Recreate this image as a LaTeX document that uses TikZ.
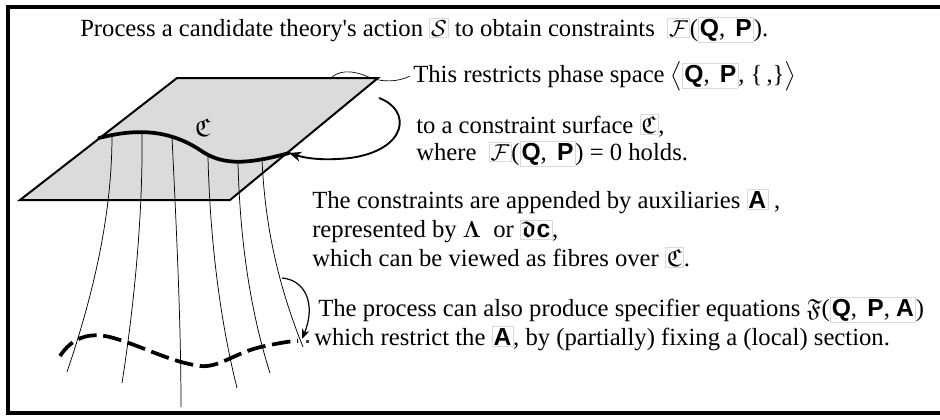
\documentclass[tikz,border=0pt]{standalone}
\usepackage{amsmath,amssymb,bm,textcomp}
\usepackage{fontspec}
\setmainfont{Liberation Serif}
\newfontfamily\bsans{Liberation Sans}
\usetikzlibrary{arrows.meta}
\newcommand{\symbox}[1]{{\color{black!15}\fboxsep=1pt\fboxrule=0.4pt\fbox{\color{black}#1}}}
\newcommand{\vQ}{{\bsans\bfseries Q}}
\newcommand{\vP}{{\bsans\bfseries P}}
\newcommand{\vA}{{\bsans\bfseries A}}
\newcommand{\vc}{{\bsans\bfseries c}}
\tikzset{
  txt/.style   ={anchor=base west, inner sep=0pt, font=\fontsize{18.5}{22}\selectfont},
  plane/.style ={draw=black, fill=black!14, line width=1.5pt, line join=miter},
  surf/.style  ={line width=2.8pt, line cap=round},
  fibre/.style ={line width=0.55pt},
  sect/.style  ={line width=2.8pt, dash pattern=on 14pt off 5pt},
  callout/.style={line width=0.5pt},
  maparr/.style={-{Stealth[length=3.2mm, width=2.6mm, inset=1mm]}, line width=1.4pt},
  secarr/.style={-{Stealth[length=2.6mm, width=2mm, inset=0.8mm]}, line width=0.9pt},
}
\begin{document}
\begin{tikzpicture}[x=0.75pt, y=-0.75pt]
  \useasboundingbox (0,0) rectangle (940,419);
  \draw[line width=2.3pt] (8,7) rectangle (960,413);
  % phase space
  \coordinate (pTL) at (177,78);
  \coordinate (pTR) at (378,78);
  \coordinate (pBR) at (230,200);
  \coordinate (pBL) at (20,200);
  \draw[plane] (pTL) -- (pTR) -- (pBR) -- (pBL) -- cycle;
  \coordinate (cL) at (99,138);
  \coordinate (cR) at (289,153);
  % fibres
  \draw[fibre] (112,135) .. controls (112,200) and (100,275) .. (67,372);
  \draw[fibre] (142,132) .. controls (143,210) and (135,300) .. (122,383);
  \draw[fibre] (172,137) .. controls (176,220) and (181,320) .. (181,407);
  \draw[fibre] (208,157) .. controls (210,240) and (220,320) .. (237,388);
  \draw[fibre] (238,163) .. controls (240,240) and (250,310) .. (270,373);
  \draw[fibre] (262,159) .. controls (265,230) and (280,290) .. (303,347);
  \draw[surf] (cL) .. controls (130,130) and (165,127) .. (200,150)
    .. controls (220,164) and (242,166) .. (cR);
  \node[inner sep=0pt, font=\fontsize{19}{22}\selectfont] (lC) at (203,128) {\symbox{$\mathfrak{C}$}};
  % section
  \coordinate (sL) at (60,356);
  \coordinate (sR) at (298,341);
  \draw[sect] (sL) .. controls (72,338) and (88,332) .. (110,337)
    .. controls (140,345) and (170,362) .. (200,366)
    .. controls (220,368) and (235,352) .. (265,346)
    .. controls (280,343) and (290,341) .. (sR);
  \fill[black!75] (306,339.5) rectangle (309,342.5);
  % texts
  \node[txt] (t1) at (80,36) {Process a candidate theory\textquotesingle s action \symbox{$\mathcal{S}$} to obtain constraints \ \symbox{$\mathcal{F}$}(\symbox{\vQ, \,\vP}).};
  \node[txt] (t2) at (413,82) {This restricts phase space $\big\langle$\symbox{\vQ, \,\vP}, \{\,,\}$\big\rangle$};
  \node[txt] (t3) at (416,133) {to a constraint surface \symbox{$\mathfrak{C}$},};
  \node[txt] (t4) at (416,160) {where \ \symbox{$\mathcal{F}$}(\symbox{\vQ, \,\vP}) = 0 holds.};
  \node[txt] (t5) at (312,208) {The constraints are appended by auxiliaries \symbox{\vA} ,};
  \node[txt] (t6) at (312,237) {represented by $\bm{\Lambda}$ \ or \symbox{$\bm{\mathfrak{d}}$\vc},};
  \node[txt] (t7) at (312,266) {which can be viewed as fibres over \symbox{$\mathfrak{C}$}.};
  \node[txt] (t8) at (318,316) {The process can also produce specifier equations $\mathfrak{F}$(\symbox{\vQ, \,\vP, \vA})};
  \node[txt] (t9) at (314,345) {which restrict the \symbox{\vA}, by (partially) fixing a (local) section.};
  % connectors
  \coordinate (k1) at (330,79);
  \coordinate (k2) at (410,76);
  \draw[callout] (k1) .. controls (338,70) and (352,70) .. (366,76)
    .. controls (382,83) and (398,82) .. (k2);
  \coordinate (a1) at (379,98);
  \draw[maparr] (a1) .. controls (412,110) and (408,150) .. (350,158)
    .. controls (322,161) and (305,158) .. (cR);
  \coordinate (b1) at (282,278);
  \coordinate (b2) at (302,339);
  \draw[secarr] (b1) .. controls (306,280) and (316,305) .. (b2);
\end{tikzpicture}
\end{document}
